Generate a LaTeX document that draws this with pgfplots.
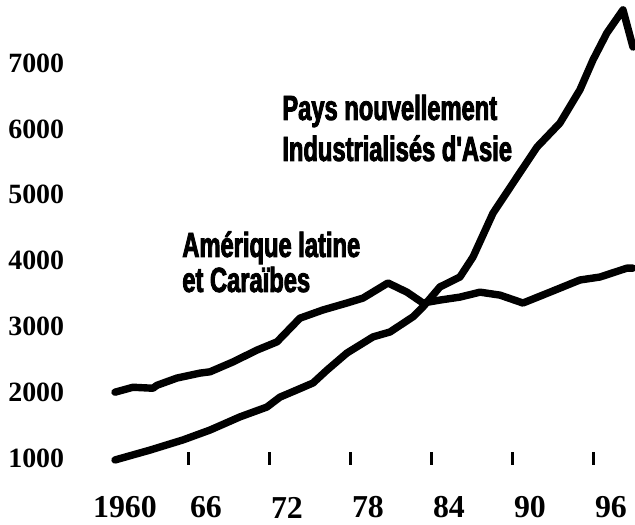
\documentclass[border=0pt]{standalone}
\usepackage{pgfplots}
\pgfplotsset{compat=1.18}
\usepackage{fontspec}
\setmainfont{Liberation Serif}
\newfontfamily\condfont[FakeStretch=0.68,FakeBold=2.5]{Liberation Sans Bold}
\begin{document}
\begin{tikzpicture}
\begin{axis}[
  scale only axis,
  width=265bp, height=229bp,
  xmin=1959.78, xmax=1999.04,
  ymin=1000, ymax=7960,
  axis line style={draw=none},
  xtick={1966,1972,1978,1984,1990,1996},
  xticklabels={66,72,78,84,90,96},
  extra x ticks={1960},
  extra x tick labels={1960},
  extra x tick style={tick style={draw=none}},
  xtick pos=bottom,
  tick align=center,
  major tick length=6.5bp,
  x tick style={line width=1.5bp, black},
  ytick={1000,2000,3000,4000,5000,6000,7000},
  yticklabels={1000,2000,3000,4000,5000,6000,7000},
  ytick style={draw=none},
  xticklabel style={font=\fontsize{16}{16}\selectfont\bfseries, anchor=center, inner sep=0pt, xshift=8.5bp, yshift=-21.5bp},
  yticklabel style={font=\fontsize{14}{14}\selectfont\bfseries, anchor=east, inner sep=0pt, xshift=-17bp},
  clip=false,
]
% Amerique latine et Caraibes
\addplot[black, line width=3.7bp, line join=round, line cap=round] coordinates {
(1960.52,2000) (1961.85,2075) (1963.33,2060) (1963.63,2105) (1965.11,2215)
(1966.81,2290) (1967.56,2310) (1969.26,2460) (1971.04,2640) (1972.52,2765)
(1974.22,3125) (1975.93,3250) (1977.70,3355) (1978.89,3430) (1980.74,3660)
(1982.15,3520) (1983.33,3355) (1984.59,3400) (1986.07,3445) (1987.56,3520)
(1989.04,3475) (1990.74,3355) (1992.74,3520) (1994.96,3705) (1996.44,3750)
(1998.44,3885) (1998.89,3885)
};
% Pays nouvellement industrialises d'Asie
\addplot[black, line width=3.7bp, line join=round, line cap=round] coordinates {
(1960.52,970) (1963.11,1120) (1965.56,1275) (1967.56,1425) (1969.78,1625)
(1971.78,1775) (1972.74,1925) (1974.00,2035) (1975.19,2140) (1976.22,2335)
(1977.70,2595) (1979.63,2840) (1980.89,2915) (1982.59,3145) (1983.33,3295)
(1984.59,3600) (1986.07,3750) (1987.04,4055) (1988.52,4720) (1990.30,5270)
(1991.78,5725) (1993.48,6090) (1994.96,6595) (1995.93,7050) (1996.96,7460)
(1998.15,7810) (1998.89,7245)
};
\node[anchor=base west, inner sep=0pt, font=\condfont\fontsize{17.5}{17.5}\selectfont] at (axis cs:1972.89,6137) {Pays nouvellement};
\node[anchor=base west, inner sep=0pt, font=\condfont\fontsize{17.5}{17.5}\selectfont] at (axis cs:1972.89,5514) {Industrialisés d'Asie};
\node[anchor=base west, inner sep=0pt, font=\condfont\fontsize{17.5}{17.5}\selectfont] at (axis cs:1965.48,4055) {Amérique latine};
\node[anchor=base west, inner sep=0pt, font=\condfont\fontsize{17.5}{17.5}\selectfont] at (axis cs:1965.48,3523) {et Caraïbes};
\end{axis}
\pgfresetboundingbox
\path ([xshift=-52.5bp,yshift=-33.5bp]current axis.south west) rectangle (current axis.north east);
\end{tikzpicture}
\end{document}
